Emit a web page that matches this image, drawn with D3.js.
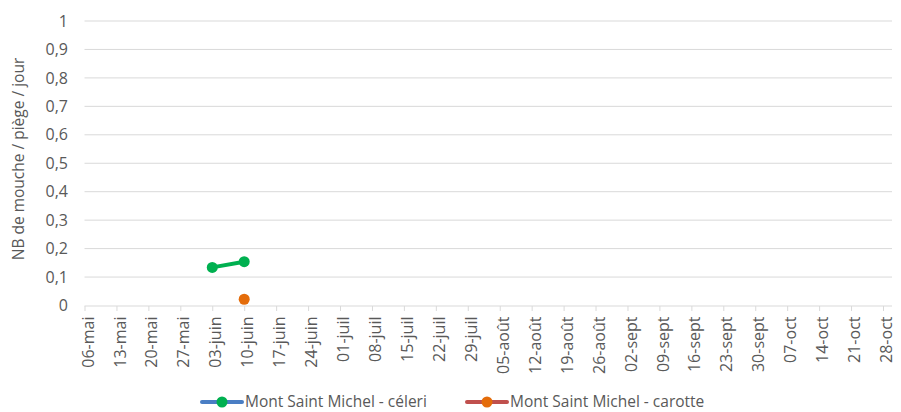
<!DOCTYPE html>
<html><head><meta charset="utf-8">
<script src="https://cdn.jsdelivr.net/npm/d3@7"></script>
<style>body{margin:0;background:#fff;} text{font-family:"Open Sans",sans-serif;}</style>
</head><body><svg id="c" width="901" height="412"></svg>
<script>
const categories = ["06-mai","13-mai","20-mai","27-mai","03-juin","10-juin","17-juin","24-juin","01-juil","08-juil","15-juil","22-juil","29-juil","05-août","12-août","19-août","26-août","02-sept","09-sept","16-sept","23-sept","30-sept","07-oct","14-oct","21-oct","28-oct"];
const celeriDates = ["03-juin","10-juin"];
const celeriValues = [0.134, 0.154];
const carotteDates = ["10-juin"];
const carotteValues = [0.022];
const yTicks = [0,0.1,0.2,0.3,0.4,0.5,0.6,0.7,0.8,0.9,1];
const seriesNames = ["Mont Saint Michel - céleri","Mont Saint Michel - carotte"];

const svg = d3.select("#c");
const left = 84.5, right = 892, x0 = 84.5, xN = 883, yTop = 21, yBot = 305.5;
const x = d3.scalePoint().domain(categories).range([x0, xN]);
const y = d3.scaleLinear().domain([0,1]).range([yBot, yTop]);
const grey = "#595959";
const FF = '"Open Sans",sans-serif';

// gridlines
svg.append("g").selectAll("line").data(yTicks.filter(d=>d>0)).join("line")
  .attr("x1", left).attr("x2", right).attr("y1", d=>y(d)).attr("y2", d=>y(d))
  .attr("stroke", "#d9d9d9").attr("stroke-width", 1);

// y labels
svg.append("g").selectAll("text").data(yTicks).join("text")
  .attr("x", 68).attr("y", d=>y(d)).attr("dy", "0.35em").attr("text-anchor","end")
  .attr("font-size", 16).attr("fill", grey)
  .text(d=>d3.format(".1~f")(d).replace(".", ","));

// y title
svg.append("text").attr("transform","translate(24,159) rotate(-90)")
  .attr("text-anchor","middle").attr("font-size",15.5).attr("fill",grey)
  .text("NB de mouche / piège / jour");

// x axis
const xa = svg.append("g").attr("transform",`translate(0,${yBot})`)
  .call(d3.axisBottom(x).tickSize(5).tickSizeOuter(0));
xa.select(".domain").remove();
xa.append("line").attr("x1",left).attr("x2",right).attr("y1",0.5).attr("y2",0.5).attr("stroke","#d9d9d9");
xa.selectAll(".tick line").attr("stroke","#d9d9d9").attr("transform","translate(0,0.5)");
xa.selectAll(".tick text").attr("fill",grey).attr("font-size",16)
  .attr("font-family",FF)
  .attr("text-anchor","end")
  .attr("x",-11).attr("y",0).attr("dy","0.35em").attr("dx",0)
  .attr("transform","translate(3,0) rotate(-90)");

// series
const green = "#00b050", orange = "#e46c0a";
const cel = celeriDates.map((d,i)=>({d, v:celeriValues[i]}));
const car = carotteDates.map((d,i)=>({d, v:carotteValues[i]}));
const line = d3.line().x(p=>x(p.d)).y(p=>y(p.v));
svg.append("path").datum(cel).attr("d",line).attr("fill","none").attr("stroke",green).attr("stroke-width",4);
svg.append("g").selectAll("circle").data(cel).join("circle").attr("cx",p=>x(p.d)).attr("cy",p=>y(p.v)).attr("r",5.5).attr("fill",green);
svg.append("path").datum(car).attr("d",line).attr("fill","none").attr("stroke",orange).attr("stroke-width",4);
svg.append("g").selectAll("circle").data(car).join("circle").attr("cx",p=>x(p.d)).attr("cy",p=>y(p.v)).attr("r",5.5).attr("fill",orange);

// legend
const leg = [{name:seriesNames[0], line:"#4a7ec4", dot:green, x:202},{name:seriesNames[1], line:"#c0504d", dot:orange, x:467}];
const lg = svg.append("g").selectAll("g").data(leg).join("g").attr("transform",d=>`translate(${d.x},402)`);
lg.append("line").attr("x1",0).attr("x2",40).attr("stroke",d=>d.line).attr("stroke-width",4).attr("stroke-linecap","round");
lg.append("circle").attr("cx",20).attr("r",5.5).attr("fill",d=>d.dot);
lg.append("text").attr("x",43).attr("dy","0.35em").attr("font-size",15.5).attr("fill",grey).text(d=>d.name);
</script></body></html>
